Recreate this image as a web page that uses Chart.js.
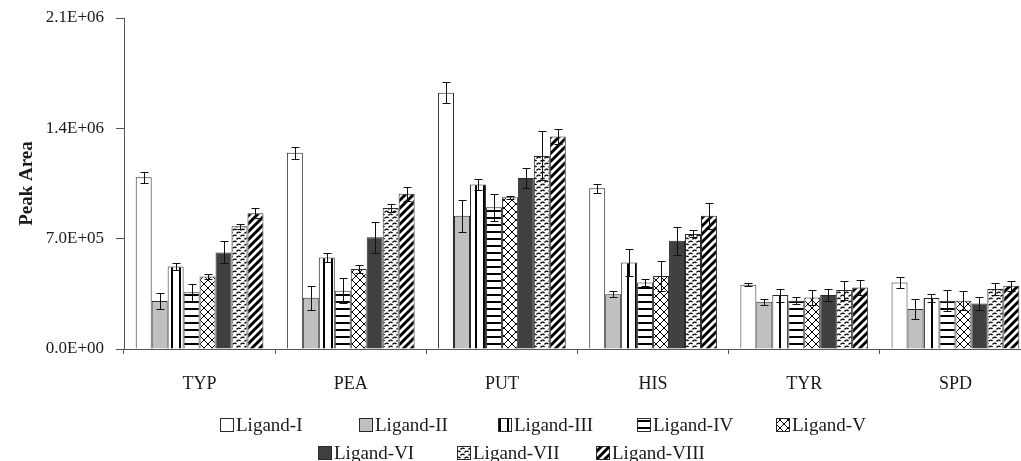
<!DOCTYPE html>
<html>
<head>
<meta charset="utf-8">
<script src="https://cdn.jsdelivr.net/npm/chart.js@4/dist/chart.umd.min.js"></script>
<style>
  html, body { margin: 0; padding: 0; background: #fff; overflow: hidden; }
  #wrap { width: 1031px; height: 461px; }
</style>
</head>
<body>
<div id="wrap"><canvas id="c" width="1031" height="461"></canvas></div>
<script>
// Amines analysed
const categories = ['TYP', 'PEA', 'PUT', 'HIS', 'TYR', 'SPD'];

// Mean peak areas per ligand
const ligandI    = [1090000, 1245000, 1625000, 1020000, 408000, 422000];
const ligandII   = [305000, 325000, 845000, 348000, 300000, 253000];
const ligandIII  = [524000, 580000, 1043000, 548000, 342000, 323000];
const ligandIV   = [360000, 370000, 900000, 422000, 306000, 306000];
const ligandV    = [460000, 508000, 962000, 463000, 327000, 306000];
const ligandVI   = [613000, 709000, 1085000, 686000, 342000, 289000];
const ligandVII  = [779000, 894000, 1225000, 730000, 374000, 380000];
const ligandVIII = [862000, 985000, 1348000, 845000, 390000, 401000];

// Standard deviations (error bars)
const errI    = [34000, 39000, 67000, 30000, 10000, 32000];
const errII   = [52000, 76000, 103000, 21000, 20000, 62000];
const errIII  = [21000, 30000, 35000, 88000, 41000, 26000];
const errIV   = [55000, 80000, 85000, 25000, 22000, 68000];
const errV    = [15000, 25000, 10000, 95000, 47000, 60000];
const errVI   = [70000, 99000, 62000, 88000, 38000, 43000];
const errVII  = [16000, 25000, 155000, 22000, 60000, 36000];
const errVIII = [30000, 45000, 45000, 83000, 49000, 32000];

// Y axis ticks
const yTicks = [0, 700000, 1400000, 2100000];

const FONT = '"Liberation Serif", "Times New Roman", serif';
const INK = '#1a1a1a';
const AXIS = '#555555';

// Fill patterns for the ligand series
function tile(w, h, draw) {
  const c = document.createElement('canvas');
  c.width = w; c.height = h;
  const g = c.getContext('2d');
  g.fillStyle = '#ffffff';
  g.fillRect(0, 0, w, h);
  g.fillStyle = '#000';
  g.strokeStyle = '#000';
  draw(g);
  return g.createPattern(c, 'repeat');
}
const patVLines = tile(8, 8, g => { g.fillRect(3, 0, 2, 8); });
const patHLines = tile(8, 7, g => { g.fillRect(0, 0, 8, 2); });
const patDiamond = tile(8, 8, g => {
  g.lineWidth = 1;
  g.beginPath();
  g.moveTo(0, 0); g.lineTo(8, 8);
  g.moveTo(8, 0); g.lineTo(0, 8);
  g.stroke();
});
const patWave = tile(8, 6, g => {
  g.lineWidth = 1.4;
  g.beginPath();
  g.moveTo(0.5, 2.5); g.quadraticCurveTo(2.5, 0, 4.5, 2);
  g.moveTo(4.5, 5.5); g.quadraticCurveTo(6.5, 3, 8.5, 5);
  g.moveTo(-3.5, 5.5); g.quadraticCurveTo(-1.5, 3, 0.5, 5);
  g.stroke();
});
const patDiag = tile(8, 8, g => {
  g.lineWidth = 3;
  g.beginPath();
  g.moveTo(-1, 9); g.lineTo(9, -1);
  g.moveTo(-3, 3); g.lineTo(3, -3);
  g.moveTo(5, 11); g.lineTo(11, 5);
  g.stroke();
});

const seriesDefs = [
  ['Ligand-I', ligandI, errI, '#ffffff'],
  ['Ligand-II', ligandII, errII, '#c0c0c0'],
  ['Ligand-III', ligandIII, errIII, patVLines],
  ['Ligand-IV', ligandIV, errIV, patHLines],
  ['Ligand-V', ligandV, errV, patDiamond],
  ['Ligand-VI', ligandVI, errVI, '#404040'],
  ['Ligand-VII', ligandVII, errVII, patWave],
  ['Ligand-VIII', ligandVIII, errVIII, patDiag]
];

const datasets = seriesDefs.map(([label, data, errors, fill]) => ({
  label, data, errors,
  backgroundColor: fill,
  borderColor: '#2a2a2a',
  borderWidth: 1,
  categoryPercentage: 0.845,
  barPercentage: 1.0
}));

// Error bars drawn through the value scale
const errorBars = {
  id: 'errorBars',
  afterDatasetsDraw(chart) {
    const ctx = chart.ctx;
    const y = chart.scales.y;
    ctx.save();
    ctx.strokeStyle = '#111';
    ctx.lineWidth = 1;
    chart.data.datasets.forEach((ds, i) => {
      const meta = chart.getDatasetMeta(i);
      meta.data.forEach((bar, j) => {
        const v = ds.data[j], e = ds.errors[j];
        const top = Math.round(y.getPixelForValue(v + e)) + 0.5;
        const bot = Math.round(y.getPixelForValue(v - e)) + 0.5;
        const x = Math.round(bar.x) + 0.5;
        ctx.beginPath();
        ctx.moveTo(x, top); ctx.lineTo(x, bot);
        ctx.moveTo(x - 4, top); ctx.lineTo(x + 4, top);
        ctx.moveTo(x - 4, bot); ctx.lineTo(x + 4, bot);
        ctx.stroke();
      });
    });
    ctx.restore();
  }
};

// Legend laid out in fixed-width columns, two rows
const gridLegend = {
  id: 'gridLegend',
  afterDraw(chart, args, opts) {
    const ctx = chart.ctx;
    const items = chart.data.datasets;
    ctx.save();
    ctx.font = '19px ' + FONT;
    ctx.textBaseline = 'middle';
    ctx.textAlign = 'left';
    let k = 0;
    opts.rows.forEach(row => {
      for (let n = 0; n < row.count; n++, k++) {
        const ds = items[k];
        const bx = row.x + n * opts.colWidth;
        const by = row.y - 7;
        ctx.fillStyle = ds.backgroundColor;
        ctx.fillRect(bx, by, 14, 14);
        ctx.strokeStyle = '#2a2a2a';
        ctx.lineWidth = 1;
        ctx.strokeRect(bx + 0.5, by + 0.5, 13, 13);
        ctx.fillStyle = INK;
        ctx.fillText(ds.label, bx + 16, row.y + 1);
      }
    });
    ctx.restore();
  }
};

function sci(v) {
  if (v === 0) return '0.0E+00';
  const [m, ex] = v.toExponential(1).split('e');
  const n = parseInt(ex, 10);
  return m + 'E' + (n < 0 ? '-' : '+') + String(Math.abs(n)).padStart(2, '0');
}

new Chart(document.getElementById('c'), {
  type: 'bar',
  data: { labels: categories, datasets },
  plugins: [errorBars, gridLegend],
  options: {
    responsive: false,
    animation: false,
    devicePixelRatio: 1,
    layout: { padding: { top: 18, left: 0, right: 0, bottom: 0 } },
    plugins: {
      legend: { display: false },
      tooltip: { enabled: false },
      gridLegend: {
        colWidth: 139,
        rows: [ { count: 5, x: 220, y: 425 }, { count: 3, x: 318, y: 453 } ]
      }
    },
    scales: {
      x: {
        afterFit(s) { s.height = 112; },
        grid: { offset: true, drawOnChartArea: false, tickLength: 5, color: AXIS },
        border: { color: AXIS, width: 1 },
        ticks: { color: INK, padding: 19, font: { family: FONT, size: 18 } }
      },
      y: {
        min: 0,
        max: 2100000,
        afterFit(s) { s.width = 124; s.paddingTop = 0; s.paddingBottom = 0; },
        afterBuildTicks(s) { s.ticks = yTicks.map(v => ({ value: v })); },
        grid: { drawOnChartArea: false, tickLength: 8, color: AXIS },
        border: { color: AXIS, width: 1 },
        ticks: {
          color: INK, padding: 12,
          font: { family: FONT, size: 17 },
          callback: v => sci(v)
        },
        title: {
          display: true,
          text: 'Peak Area',
          color: INK,
          padding: { top: 16, bottom: 0 },
          font: { family: FONT, size: 19, weight: 'bold' }
        }
      }
    }
  }
});
</script>
</body>
</html>
